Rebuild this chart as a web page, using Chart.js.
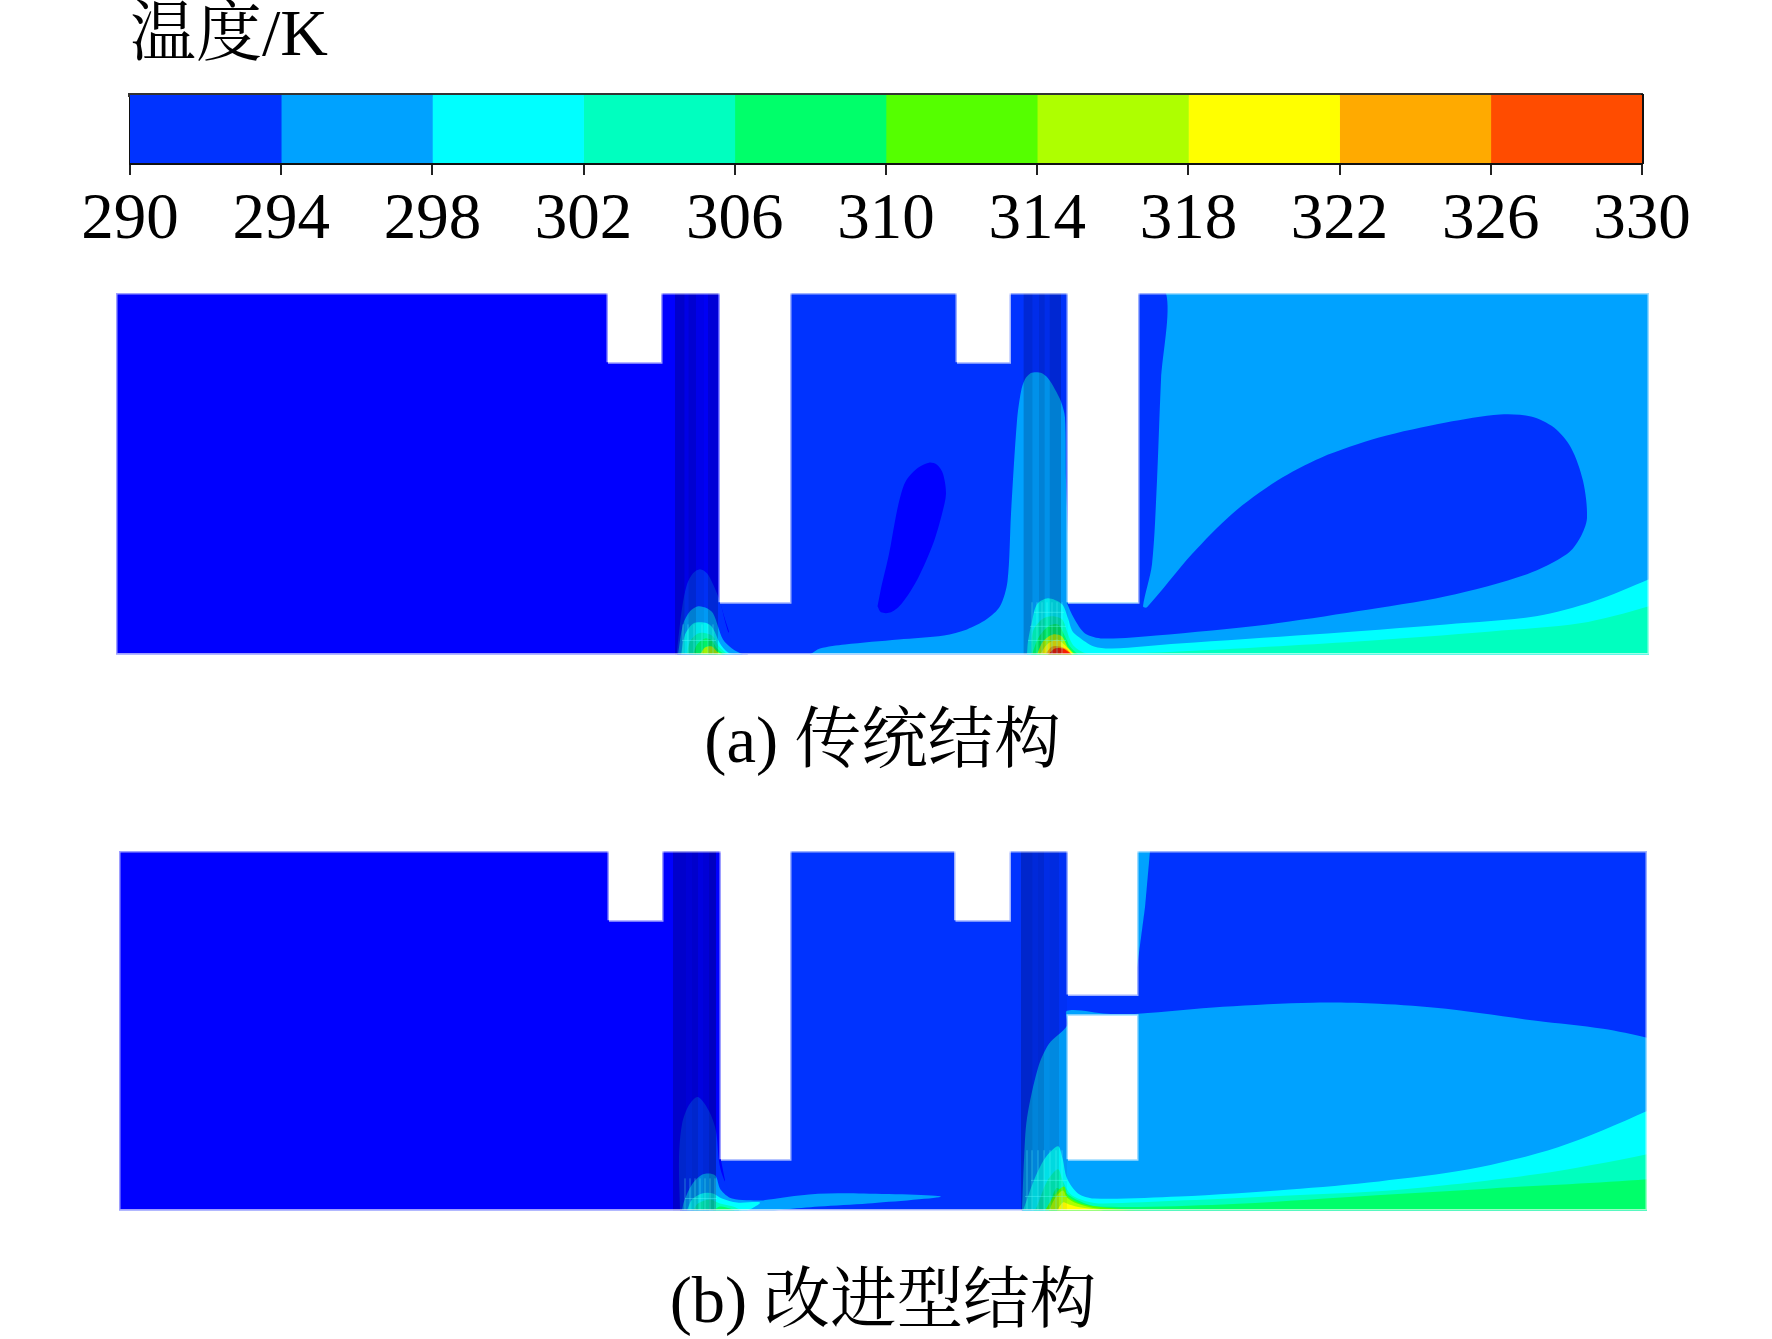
<!DOCTYPE html>
<html lang="zh"><head><meta charset="utf-8">
<style>
html,body{margin:0;padding:0;background:#fff;width:1772px;height:1339px;overflow:hidden}
canvas{position:absolute;display:block}
</style>
<script src="https://cdn.jsdelivr.net/npm/chart.js@4/dist/chart.umd.min.js"></script>
</head><body>
<canvas id="bar" style="left:0;top:0" width="1772" height="267"></canvas>
<canvas id="panelA" style="left:116px;top:293px" width="1533" height="485"></canvas>
<canvas id="panelB" style="left:119px;top:851px" width="1528" height="487"></canvas>
<script>
// colour bar
const legendStart = [290,294,298,302,306,310,314,318,322,326];
const legendStep = [4,4,4,4,4,4,4,4,4,4];
const legendTicks = [290,294,298,302,306,310,314,318,322,326,330];
const legendColors = ['#0033ff','#00a2ff','#00ffff','#00ffbf','#00ff6a','#55ff00','#aeff00','#ffff00','#ffaa00','#ff4c00'];
const tempLabel = '温度/K';
const captionA = '(a) 传统结构';
const captionB = '(b) 改进型结构';
const deep = '#0000ff';

// contour regions, panel (a): [position along duct, height above the bottom wall]
const a_deepLeft = [[0,0],[0,360],[604,360],[604,52],[609,35],[613,23],[600,0]];
const a_deepCore = [[761.5,48],[765,42],[775,42],[786,51],[802,76],[817,110],[826,140],[830,160],[827,180],[821,189],[813,191],[802,186],[790,173],[784,156],[779,133],[773,100],[765,66]];
const a_b0Blob = [[561,0],[561,3],[566,46],[571,70],[577,81],[584,85],[591,81],[597,70],[604,53],[609,33],[612,23],[617,10],[631,1],[632,0]];
const a_b1Blob = [[562,0],[567,30],[574,43],[582,48],[591,46],[597,41],[602,28],[607,15],[616,6],[627,0]];
const a_b2Blob = [[565,0],[569,20],[576,30],[582,32],[591,31],[597,26],[604,11],[612,2],[619,0]];
const a_b3Blob = [[571,0],[574,13],[582,21],[591,21],[597,18],[603,8],[612,0]];
const a_b4Blob = [[577,0],[581,10],[589,16],[596,14],[601,6],[609,0]];
const a_b6Blob = [[584,0],[589,7],[596,8],[601,3],[606,0]];
const a_b1Chamber = [[694,0],[704,6],[729,10],[782.5,15],[828,19],[851,25],[870.5,35],[884,48],[891.5,73],[895,140],[901,233],[905,262],[909,274],[914.5,280],[920,281],[926,280],[932,275],[939,264],[945,252],[949,236],[950,173],[952.5,106],[953,52],[953,0]];
const a_b1Right = [[952,0],[952,360],[1533,360],[1533,0]];
const a_b0Lobe = [[951,51],[958,36],[969,21],[987,16],[1040,19],[1152,30],[1241,43],[1330,58],[1411,80],[1451,100],[1464,116],[1471,136],[1467,173],[1455,206],[1438,226],[1415,237],[1384,239],[1330,231],[1263,216],[1205,196],[1161,173],[1116,140],[1076,100],[1031,47],[1027,48],[1036,90],[1041,173],[1045,273],[1050,360],[1022,360],[1022,51]];
const a_b2Right = [[911,0],[912,13],[916,33],[921,50],[932,56],[946,50],[952,36],[956,24],[962,18],[978,8],[996,6],[1063,11],[1196,20],[1330,30],[1420,38],[1478,53],[1533,75],[1570,92],[1570,-40],[911,-40]];
const a_b3Right = [[915,0],[917,23],[926,35],[936,38],[946,35],[951,23],[956,11],[962,5],[973,0.5],[1063,3],[1241,13],[1375,23],[1464,31],[1533,48],[1570,62],[1570,-40],[915,-40]];
const a_b4Hot = [[916,0],[922,16],[932,28],[942,30],[949,18],[954,8],[962,0]];
const a_b6Hot = [[921,0],[927,13],[937,20],[946,18],[952,7],[959,0]];
const a_b7Hot = [[924,0],[931,10],[941,15],[947,11],[954,4],[957,0]];
const a_b8Hot = [[929,0],[936,8],[944,8],[951,5],[956,0]];
const a_b9Hot = [[932,0],[939,6],[947,6],[952,3],[956,0]];
const a_openings = [
  [[492,291],[545,291],[545,360],[492,360]],
  [[604,52],[674,52],[674,360],[604,360]],
  [[841,291],[893.5,291],[893.5,360],[841,360]],
  [[952,52],[1022,52],[1022,360],[952,360]]
];
const a_stripeEdges = [[559,568.5],[568.5,572.5],[572.5,580],[580,588],[588,592],[592,602],[907.6,916.5],[916.5,923],[923,928.7],[928.7,933.7],[933.7,945],[945,952]];
const a_stripeShade = [.25,.12,.22,.1,.05,.2,.2,.1,.2,.1,.22,.03];
const a_meshX = [567,572,578,586,592,597];
const a_meshTop = 30;
const a_mesh2X = [916,921,926,931,936,941,946];
const a_mesh2Top = 52;
const a_meshRows = [[566,600,14],[912,950,14],[914,950,28],[918,948,42]];

// contour regions, panel (b)
const b_deepLeft = [[0,0],[0,358],[602,358],[602,50],[606,30],[590,0]];
const b_b0Blob = [[561,0],[560,52],[563,86],[570,105],[579,113],[590,99],[597,79],[600,49],[603,36],[612,15],[620,0]];
const b_b1Blob = [[563,0],[565,9],[573,26],[584,36],[596,35],[601.5,21],[613,12],[642,10],[650,11],[690,16],[740,17],[822,14],[749,7],[700,4],[665,1],[655,0]];
const b_b2Blob = [[568,0],[573,11],[583,17],[594,17],[603,12],[618,8],[641,8],[633,2],[628,0]];
const b_b3Blob = [[574,0],[579,7],[591,11],[601,7],[614,4],[623,0]];
const b_b4Blob = [[594,0],[601,4],[611,2],[616,0]];
const b_b1Right = [[903,0],[905,50],[908,92],[919,142],[930,166],[948,184],[948,199],[988,196],[1019,196],[1104,203],[1193.5,207],[1260,206],[1327,201],[1417,189],[1484,181],[1528,172],[1570,160],[1570,-40],[903,-40]];
const b_b1Strip = [[1018,358],[1031,358],[1026,302],[1018,242]];
const b_b2Right = [[904,0],[905.5,4],[914.5,29],[926,52],[939,64],[943.5,52],[948,32],[959,17],[975,12],[1060,14],[1171,21],[1260,29],[1350,41],[1439,63],[1528,99],[1570,122],[1570,-40],[904,-40]];
const b_b3Right = [[914.5,0],[917,2],[928,29],[939,41],[944,29],[952,16],[968,9],[984,7],[1149,14],[1283,21],[1417,36],[1528,56],[1570,68],[1570,-40],[914.5,-40]];
const b_b4Right = [[930,0],[930,2],[937,22],[945,19],[957,11],[979,4],[1104,6],[1238,14],[1372,22],[1528,31],[1570,38],[1570,-40],[930,-40]];
const b_b5Hot = [[926,0],[936,16],[945,24],[949,14],[965,6],[1010,0.8],[1040,0]];
const b_b6Hot = [[930,0],[937,14],[944,20],[948,13],[958,7],[978,2],[1010,0]];
const b_b7Hot = [[938,0],[944,8],[950,6],[962,3],[985,0]];
const b_openings = [
  [[490,289],[543,289],[543,358],[490,358]],
  [[602,51],[671,51],[671,358],[602,358]],
  [[836.5,289],[890.5,289],[890.5,358],[836.5,358]],
  [[949,215],[1018,215],[1018,358],[949,358]],
  [[949,51],[1018,51],[1018,194],[949,194]]
];
const b_stripeEdges = [[554,567],[567,573],[573,579],[579,584],[584,590],[590,597],[902,913.5],[913.5,919],[919,925],[925,930.5],[930.5,940],[940,948]];
const b_stripeShade = [.25,.2,.25,.15,.2,.3,.25,.18,.22,.12,.15,.05];
const b_meshX = [566,571,576,581,586,591,596];
const b_meshTop = 32;
const b_mesh2X = [908,913,919,925,931,937,943];
const b_mesh2Top = 60;
const b_meshRows = [[566,598,12],[906,948,14],[912,948,30]];

const C = {b0:'#0033ff',b1:'#00a2ff',b2:'#00ffff',b3:'#00ffbf',b4:'#00ff6a',b5:'#55ff00',b6:'#aaff00',b7:'#ffff00',b8:'#ffaa00',b9:'#ff2000'};
const SERIF = "'Liberation Serif','Noto Serif CJK SC','Noto Sans CJK SC',serif";

Chart.defaults.animation = false;

function pts(list){ return list.map(p => ({x:p[0], y:p[1]})); }
function region(label, list, color, tension){
  return {label, data:pts(list), showLine:true, fill:'shape', backgroundColor:color,
          borderWidth:0, borderColor:color, pointRadius:0, tension:tension===undefined?0.3:tension};
}
function rect(x0,x1,h){ return [[x0,0],[x1,0],[x1,h],[x0,h]]; }
function meshData(xs, top, rows, xs2, top2){
  const out=[];
  xs.forEach(x=>{out.push({x,y:0},{x,y:top},{x,y:null});});
  xs2.forEach(x=>{out.push({x,y:0},{x,y:top2},{x,y:null});});
  rows.forEach(r=>{out.push({x:r[0],y:r[2]},{x:r[1],y:r[2]},{x:r[0],y:null});});
  return out;
}
function contour(id, W, H, layers, openings, stripes, shades, mesh, caption, capTop){
  const ds=[];
  ds.push(region('base', rect(0,W,H), C.b0, 0));
  layers.forEach((l,i)=>ds.push(region('r'+i, l[0], l[1], l[2])));
  stripes.forEach((s,i)=>ds.push(region('s'+i, rect(s[0],s[1],H), 'rgba(0,0,50,'+shades[i]+')', 0)));
  ds.push({label:'mesh', data:mesh, showLine:true, fill:false, borderColor:'rgba(90,255,255,.38)', borderWidth:1, pointRadius:0, spanGaps:false, tension:0});
  openings.forEach((o,i)=>{ ds.push(region('o'+i,o,'#ffffff',0)); });
  openings.forEach((o,i)=>{
    ds.push({label:'edge'+i, data:pts(o.concat([o[0]])), showLine:true, fill:false, borderColor:'rgba(255,255,255,.62)', borderWidth:3, pointRadius:0, tension:0});
  });
  ds.push({label:'frame', data:pts([[0,0],[W,0],[W,H],[0,H],[0,0]]), showLine:true, fill:false, borderColor:'rgba(255,255,255,.62)', borderWidth:3, pointRadius:0, tension:0});
  ds.forEach((d,i)=>{d.order=ds.length-i;});
  return new Chart(document.getElementById(id),{
    type:'scatter',
    data:{datasets:ds},
    options:{
      responsive:false, devicePixelRatio:1, events:[],
      layout:{padding:0},
      plugins:{legend:{display:false},tooltip:{enabled:false},
        filler:{propagate:false,drawTime:'beforeDatasetDraw'},
        title:{display:true,text:caption,position:'bottom',color:'#000',
          font:{family:SERIF,size:66.5,weight:'normal',lineHeight:1},padding:{top:capTop,bottom:0}}},
      scales:{
        x:{type:'linear',min:0,max:W,display:false},
        y:{type:'linear',min:0,max:H,display:false}
      }
    }
  });
}

// legend bar
new Chart(document.getElementById('bar'),{
  type:'bar',
  data:{labels:[tempLabel],datasets:legendStart.map((s,i)=>({label:String(s),data:[[s,s+legendStep[i]]],backgroundColor:legendColors[i],borderWidth:0,borderSkipped:false,barPercentage:1,categoryPercentage:1,stack:'k'}))},
  options:{
    indexAxis:'y',responsive:false,devicePixelRatio:1,events:[],
    layout:{padding:{left:130,right:130,top:0,bottom:0}},
    plugins:{legend:{display:false},tooltip:{enabled:false},
      title:{display:true,text:tempLabel,align:'start',fullSize:false,color:'#000',
        font:{family:SERIF,size:66,weight:'normal',lineHeight:1},padding:{top:5,bottom:24}}},
    scales:{
      x:{type:'linear',min:290,max:330,stacked:false,offset:false,
        afterBuildTicks(s){ s.ticks=legendTicks.map(v=>({value:v})); },
        ticks:{autoSkip:false,maxRotation:0,color:'#000',padding:7,font:{family:SERIF,size:65}},
        grid:{drawOnChartArea:false,drawTicks:true,tickLength:12,color:'#222',lineWidth:2},
        border:{display:true,color:'#111',width:3}},
      y:{stacked:true,display:true,ticks:{display:false},grid:{display:false,drawTicks:false},border:{display:true,color:'#111',width:3}},
      x2:{type:'linear',position:'top',min:290,max:330,display:true,ticks:{display:false},grid:{display:false,drawTicks:false},border:{display:true,color:'#333',width:4}},
      y2:{type:'linear',position:'right',min:0,max:1,display:true,ticks:{display:false},grid:{display:false,drawTicks:false},border:{display:true,color:'#111',width:3}}
    }
  }
});

contour('panelA',1533,360,[
  [a_deepLeft,deep,0],[a_deepCore,deep],
  [a_b0Blob,C.b0],[a_b1Blob,C.b1],[a_b2Blob,C.b2],[a_b3Blob,C.b3],[a_b4Blob,C.b4],[a_b6Blob,C.b6],
  [a_b1Chamber,C.b1],[a_b1Right,C.b1,0],[a_b0Lobe,C.b0],
  [a_b2Right,C.b2],[a_b3Right,C.b3],[a_b4Hot,C.b4],[a_b6Hot,C.b6],[a_b7Hot,C.b7],[a_b8Hot,C.b8],[a_b9Hot,C.b9]
],a_openings,a_stripeEdges,a_stripeShade,meshData(a_meshX,a_meshTop,a_meshRows,a_mesh2X,a_mesh2Top),captionA,57);

contour('panelB',1528,358,[
  [b_deepLeft,deep,0],
  [b_b0Blob,C.b0],[b_b1Blob,C.b1],[b_b2Blob,C.b2],[b_b3Blob,C.b3],[b_b4Blob,C.b4],
  [b_b1Right,C.b1],[b_b1Strip,C.b1,0],[b_b2Right,C.b2],[b_b3Right,C.b3],[b_b4Right,C.b4],[b_b5Hot,C.b5],[b_b6Hot,C.b6],[b_b7Hot,C.b7]
],b_openings,b_stripeEdges,b_stripeShade,meshData(b_meshX,b_meshTop,b_meshRows,b_mesh2X,b_mesh2Top),captionB,61);
</script>
</body></html>
